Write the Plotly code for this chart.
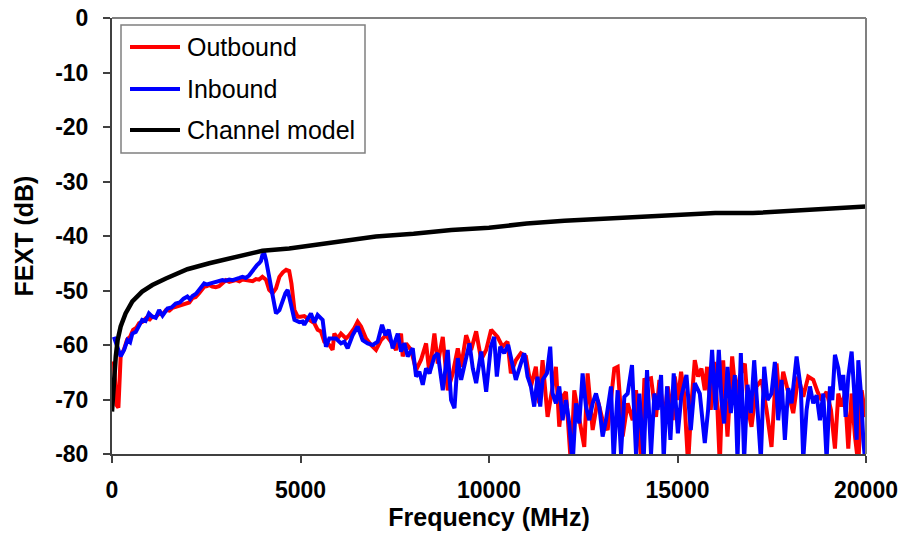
import plotly.graph_objects as go

# ---- Data -------------------------------------------------------------
model_freq = [0, 50, 100, 150, 230, 360, 540, 800, 1070, 1430, 2000, 2580,
              3290, 3990, 4700, 5230, 6000, 7000, 8000, 9000, 10000, 11000,
              12000, 13000, 14000, 15000, 16000, 17000, 18000, 19000, 20000]
model_fext = [-72.2, -66.4, -62.1, -59.1, -56.6, -54.2, -52.0, -50.2, -49.0,
              -47.8, -46.1, -45.0, -43.8, -42.7, -42.3, -41.8, -41.0, -40.1,
              -39.6, -38.9, -38.5, -37.7, -37.2, -36.9, -36.5, -36.2, -35.8,
              -35.8, -35.4, -35.0, -34.6]

out_freq = [50, 120, 170, 230, 320, 400, 480, 560, 650, 720, 800, 900, 1000,
            1070, 1160, 1250, 1340, 1430, 1520, 1600, 1690, 1800, 1960, 2050,
            2135, 2220, 2310, 2380, 2445, 2520, 2580, 2660, 2750, 2840, 2930,
            3020, 3110, 3200, 3290, 3380, 3460, 3550, 3640, 3730, 3820, 3900,
            3990, 4085, 4170, 4260, 4350, 4440, 4530, 4620, 4700, 4760, 4840,
            4925, 5000, 5100, 5233, 5365, 5454, 5542, 5631, 5764, 5852, 5897,
            5985, 6074, 6206, 6295, 6428, 6516, 6605, 6738, 6870, 7003, 7136,
            7269, 7402, 7534, 7667, 7711, 7800, 7933, 8066, 8198, 8331, 8420,
            8552, 8641, 8774, 8906, 9039, 9172, 9261, 9393, 9526, 9659, 9792,
            9925, 10057, 10226, 10358, 10491, 10580, 10712, 10845, 10978,
            11111, 11243, 11332, 11421, 11554, 11687, 11775, 11864, 11952,
            12041, 12174, 12262, 12395, 12527, 12616, 12749, 12882, 13014,
            13147, 13324, 13413, 13545, 13678, 13811, 13900, 14033, 14121,
            14298, 14431, 14519, 14652, 14741, 14874, 14927, 15016, 15095,
            15175, 15281, 15370, 15458, 15547, 15635, 15724, 15786, 15883,
            15972, 16060, 16122, 16211, 16326, 16450, 16547, 16653, 16786,
            16875, 16963, 17096, 17229, 17362, 17494, 17627, 17716, 17804,
            17937, 18070, 18203, 18335, 18468, 18601, 18716, 18822, 18955,
            19070, 19176, 19265, 19353, 19442, 19530, 19619, 19708, 19796,
            19885, 19991]
out_fext = [-63.0, -71.0, -71.5, -62.0, -60.8, -59.0, -58.5, -57.2, -56.8,
            -56.0, -55.8, -55.1, -55.3, -54.8, -54.9, -54.2, -54.4, -53.6,
            -53.7, -53.2, -53.0, -52.8, -52.4, -52.2, -51.4, -51.2, -50.5,
            -50.0, -49.3, -49.2, -49.0, -49.3, -49.4, -49.2, -48.7, -48.1,
            -48.4, -48.2, -48.1, -48.3, -48.0, -48.1, -48.2, -48.3, -47.9,
            -48.0, -47.5, -48.0, -49.9, -50.5, -49.6, -47.5, -46.7, -46.2,
            -46.4, -48.7, -53.6, -54.8, -54.8, -54.7, -55.4, -56.0, -57.2,
            -57.5, -59.4, -60.0, -60.9, -57.9, -58.8, -57.9, -58.8, -58.2,
            -56.9, -55.7, -56.6, -58.8, -60.0, -60.9, -59.1, -58.2, -59.4,
            -60.9, -57.9, -62.1, -59.7, -60.9, -64.6, -62.7, -59.7, -65.2,
            -57.9, -63.4, -58.5, -68.3, -65.2, -60.6, -64.0, -58.2, -60.9,
            -57.5, -62.7, -60.9, -57.2, -58.5, -60.3, -59.4, -65.2, -62.8,
            -61.5, -62.1, -67.6, -64.0, -70.7, -62.8, -73.2, -67.6, -64.0,
            -75.0, -69.5, -68.6, -82.0, -68.3, -73.8, -78.7, -65.2, -75.6,
            -70.1, -73.8, -75.6, -64.3, -64.0, -76.8, -70.7, -73.8, -68.3,
            -81.0, -66.4, -66.1, -73.2, -66.4, -73.8, -67.6, -73.8, -65.8,
            -70.1, -64.9, -68.9, -82.0, -70.7, -62.8, -65.8, -64.3, -68.3,
            -64.0, -71.9, -63.1, -71.9, -82.0, -62.8, -76.8, -62.1, -69.5,
            -65.8, -63.4, -71.9, -75.0, -67.6, -66.4, -71.9, -78.7, -63.4,
            -70.7, -64.9, -68.9, -72.5, -65.8, -69.5, -65.8, -66.4, -68.6,
            -70.1, -68.6, -71.9, -79.0, -68.9, -71.3, -68.9, -79.0, -68.9,
            -76.8, -82.0, -68.3, -73.2]

in_freq = [50, 140, 230, 320, 410, 480, 540, 630, 720, 800, 890, 980, 1070,
           1160, 1250, 1340, 1470, 1580, 1690, 1800, 1900, 2000, 2070, 2135,
           2230, 2310, 2380, 2445, 2520, 2580, 2660, 2750, 2840, 2930, 3020,
           3110, 3200, 3290, 3380, 3460, 3550, 3640, 3700, 3770, 3840, 3900,
           3950, 3990, 4040, 4085, 4130, 4170, 4215, 4260, 4310, 4350, 4440,
           4530, 4600, 4660, 4750, 4840, 4970, 5055, 5100, 5188, 5277, 5365,
           5454, 5587, 5675, 5764, 5941, 6074, 6162, 6251, 6383, 6516, 6649,
           6782, 6915, 7047, 7163, 7251, 7339, 7446, 7579, 7667, 7755, 7844,
           7977, 8066, 8154, 8243, 8331, 8420, 8552, 8641, 8774, 8906, 8995,
           9084, 9172, 9261, 9393, 9482, 9570, 9659, 9792, 9925, 10049, 10137,
           10208, 10296, 10403, 10509, 10597, 10712, 10845, 10934, 11022,
           11111, 11199, 11288, 11359, 11421, 11536, 11624, 11687, 11775,
           11864, 11952, 12041, 12129, 12218, 12306, 12395, 12483, 12572,
           12660, 12749, 12838, 12926, 13014, 13103, 13236, 13306, 13413,
           13501, 13590, 13678, 13793, 13900, 13988, 14103, 14192, 14298,
           14387, 14475, 14564, 14634, 14723, 14812, 14900, 15010, 15100,
           15237, 15352, 15458, 15591, 15724, 15812, 15918, 16007, 16096,
           16166, 16237, 16326, 16414, 16521, 16591, 16680, 16768, 16857,
           16946, 17034, 17123, 17211, 17300, 17388, 17494, 17583, 17671,
           17760, 17848, 17937, 18026, 18159, 18274, 18335, 18424, 18513,
           18601, 18690, 18778, 18867, 18955, 19044, 19106, 19176, 19265,
           19335, 19397, 19459, 19530, 19619, 19690, 19752, 19796, 19867,
           19929, 19973]
in_fext = [-58.5, -60.3, -62.1, -60.9, -59.1, -59.5, -57.9, -57.6, -56.6,
           -55.4, -55.6, -54.2, -54.8, -55.0, -53.6, -54.6, -53.3, -53.1,
           -52.4, -52.2, -51.5, -51.1, -51.6, -51.0, -50.6, -49.9, -49.2,
           -48.7, -48.9, -48.8, -48.6, -48.4, -48.3, -48.1, -48.2, -48.0,
           -48.1, -47.8, -47.7, -47.5, -47.7, -47.2, -46.6, -45.9, -45.4,
           -45.0, -44.6, -43.5, -43.2, -44.4, -46.0, -47.5, -49.3, -51.1,
           -53.0, -54.2, -53.6, -51.7, -50.5, -49.9, -52.4, -55.4, -55.8,
           -55.7, -56.3, -55.1, -54.2, -55.9, -54.5, -55.4, -60.3, -58.8,
           -58.8, -59.7, -59.4, -60.6, -58.2, -56.6, -59.1, -59.7, -60.0,
           -59.4, -56.3, -58.2, -57.2, -60.6, -57.9, -61.2, -59.7, -62.1,
           -60.6, -65.8, -64.9, -67.3, -64.3, -65.2, -62.1, -61.5, -68.3,
           -60.9, -70.1, -71.6, -62.4, -66.4, -62.7, -59.7, -64.3, -67.0,
           -61.2, -68.6, -60.3, -58.5, -65.8, -60.3, -61.5, -60.0, -62.8,
           -66.4, -63.4, -61.5, -65.8, -67.6, -71.3, -65.8, -71.3, -66.4,
           -65.2, -60.3, -68.9, -70.7, -67.6, -73.8, -70.1, -74.4, -82.0,
           -70.7, -74.4, -65.2, -71.3, -73.8, -70.7, -68.9, -71.3, -76.8,
           -73.8, -67.6, -81.0, -68.3, -80.0, -69.5, -68.9, -63.7, -80.0,
           -68.9, -81.0, -64.6, -80.0, -68.9, -71.9, -65.5, -81.0, -67.6,
           -77.4, -65.2, -76.2, -69.5, -65.5, -75.6, -67.0, -68.9, -78.0,
           -71.9, -60.9, -71.9, -60.9, -70.1, -74.4, -64.0, -72.5, -65.5,
           -81.0, -61.5, -81.0, -67.3, -72.5, -62.8, -71.9, -81.0, -64.0,
           -70.1, -68.9, -63.1, -73.8, -66.4, -77.4, -67.9, -70.7, -62.1,
           -68.3, -81.0, -71.9, -67.6, -70.7, -69.2, -73.8, -68.9, -81.0,
           -67.6, -70.1, -61.8, -64.3, -68.3, -65.5, -73.2, -65.8, -61.2,
           -68.9, -77.4, -62.8, -68.9, -77.4, -81.0]

x_ticks = [0, 5000, 10000, 15000, 20000]
x_tick_labels = ["0", "5000", "10000", "15000", "20000"]
y_ticks = [0, -10, -20, -30, -40, -50, -60, -70, -80]
y_tick_labels = ["0", "-10", "-20", "-30", "-40", "-50", "-60", "-70", "-80"]

series_names = ["Outbound", "Inbound", "Channel model"]
series_colors = ["#FF0000", "#0000FF", "#000000"]

# ---- Figure -----------------------------------------------------------
W, H = 921, 533
M_L, M_R, M_T, M_B = 112, 55, 18, 79
PW, PH = W - M_L - M_R, H - M_T - M_B

def px_x(p):
    return (p - M_L) / PW

def px_y(p):
    return 1 - (p - M_T) / PH

fig = go.Figure()
fig.add_trace(go.Scatter(x=out_freq, y=out_fext, mode="lines", name=series_names[0],
                         line=dict(color=series_colors[0], width=4), showlegend=False))
fig.add_trace(go.Scatter(x=in_freq, y=in_fext, mode="lines", name=series_names[1],
                         line=dict(color=series_colors[1], width=4), showlegend=False))
fig.add_trace(go.Scatter(x=model_freq, y=model_fext, mode="lines", name=series_names[2],
                         line=dict(color=series_colors[2], width=4.5), showlegend=False))

FONT = "Liberation Sans, Arial, sans-serif"

fig.update_layout(
    width=W, height=H,
    margin=dict(l=M_L, r=M_R, t=M_T, b=M_B),
    paper_bgcolor="white", plot_bgcolor="white",
    font=dict(family=FONT, color="black"),
)

fig.update_xaxes(
    range=[0, 20000], tickvals=x_ticks, ticktext=x_tick_labels,
    showgrid=False, zeroline=False, showline=True, linecolor="#404040", linewidth=2,
    ticks="outside", ticklen=7, tickwidth=1.5, tickcolor="#404040",
    tickfont=dict(family=FONT, size=23, weight="bold"), ticklabelstandoff=7,
    title=dict(text="Frequency (MHz)", font=dict(family=FONT, size=25, weight="bold"),
               standoff=0),
    automargin=False,
)
fig.update_yaxes(
    range=[-80, 0], tickvals=y_ticks, ticktext=y_tick_labels,
    showgrid=False, zeroline=False, showline=True, linecolor="#404040", linewidth=2,
    ticks="outside", ticklen=7, tickwidth=1.5, tickcolor="#404040",
    tickfont=dict(family=FONT, size=23, weight="bold"), ticklabelstandoff=10,
    title=dict(text="FEXT (dB)", font=dict(family=FONT, size=25, weight="bold"),
               standoff=14),
    automargin=False,
)

# top and right frame lines
fig.add_shape(type="line", xref="paper", yref="paper", x0=0, x1=1, y0=1, y1=1,
              line=dict(color="#808080", width=2))
fig.add_shape(type="line", xref="paper", yref="paper", x0=1, x1=1, y0=0, y1=1,
              line=dict(color="#808080", width=2))

# legend box with line samples and labels
fig.add_shape(type="rect", xref="paper", yref="paper",
              x0=px_x(121), x1=px_x(365), y0=px_y(153), y1=px_y(25),
              line=dict(color="#808080", width=1.5), fillcolor="white", layer="above")
row_y = [47, 89, 130]
for name, color, ry in zip(series_names, series_colors, row_y):
    fig.add_shape(type="line", xref="paper", yref="paper",
                  x0=px_x(130), x1=px_x(180), y0=px_y(ry), y1=px_y(ry),
                  line=dict(color=color, width=4), layer="above")
    fig.add_annotation(xref="paper", yref="paper", x=px_x(185), y=px_y(ry),
                       text=name, showarrow=False, xanchor="left", yanchor="middle",
                       font=dict(family=FONT, size=25, color="black"))

fig.write_html("out.html")
